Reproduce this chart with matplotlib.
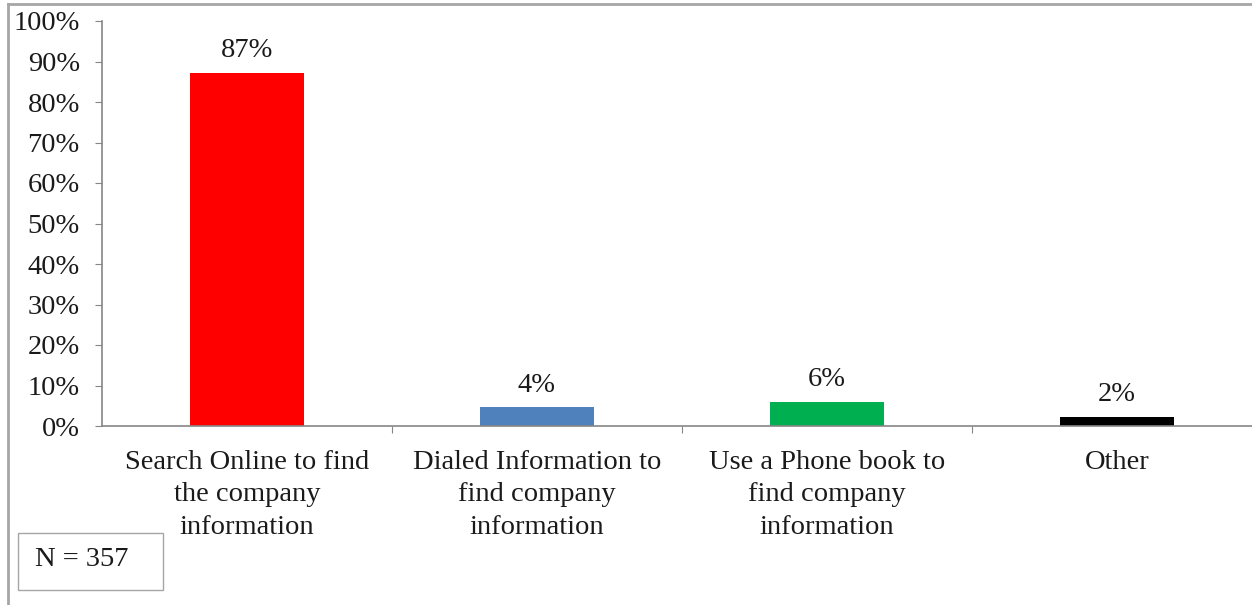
"""
How respondents find company information - bar chart
"""
import matplotlib
matplotlib.use("Agg")
from matplotlib import pyplot as plt
from matplotlib.lines import Line2D
from matplotlib.patches import Rectangle
from matplotlib.ticker import PercentFormatter

categories = ["Search Online to find\nthe company\ninformation",
              "Dialed Information to\nfind company\ninformation",
              "Use a Phone book to\nfind company\ninformation",
              "Other"]
values = [87.2, 4.6, 6.0, 2.3]
value_labels = ["87%", "4%", "6%", "2%"]
colors = ["#ff0000", "#4f81bd", "#00b050", "#000000"]
n_text = "N = 357"

plt.rcParams['font.family'] = ['Liberation Serif', 'DejaVu Serif']
FS = 20.5
TXT = "#1a1a1a"
W, H = 1252, 605

fig = plt.figure(figsize=(W / 100, H / 100), dpi=100)
ax = fig.add_axes([102 / W, 179 / H, 1160 / W, 405 / H])

x = list(range(len(categories)))
bars = ax.bar(x, values, width=0.395, color=colors)
for xi, v, lab in zip(x, values, value_labels):
    ax.annotate(lab, (xi, v), xytext=(0, 7), textcoords="offset points",
                ha="center", va="bottom", fontsize=FS, color=TXT)

ax.set_xlim(-0.5, len(categories) - 0.5)
ax.set_ylim(0, 100)
ax.set_yticks(range(0, 101, 10))
ax.yaxis.set_major_formatter(PercentFormatter(decimals=0))

# category labels between boundary ticks
ax.set_xticks([i + 0.5 for i in range(len(categories))])
ax.set_xticklabels([])
ax.set_xticks(x, minor=True)
ax.set_xticklabels(categories, minor=True, fontsize=FS, linespacing=1.4,
                   color=TXT)
ax.tick_params(axis="x", which="minor", length=0, pad=17)
ax.tick_params(axis="x", which="major", length=5, color="#868686")
ax.tick_params(axis="y", length=5, color="#868686", labelsize=FS, pad=11,
               labelcolor=TXT)

for s in ["top", "right"]:
    ax.spines[s].set_visible(False)
for s in ["left", "bottom"]:
    ax.spines[s].set_color("#868686")
    ax.spines[s].set_linewidth(1.2)

# outer chart frame (only top and left edges are visible)
fig.add_artist(Line2D([8 / W, 8 / W], [0, 1 - 4 / H],
                      transform=fig.transFigure, color="#a6a6a6", lw=2))
fig.add_artist(Line2D([8 / W, 1], [1 - 4 / H, 1 - 4 / H],
                      transform=fig.transFigure, color="#a6a6a6", lw=2))

# sample size box
fig.add_artist(Rectangle((18 / W, 1 - 590 / H), 145 / W, 57 / H,
                         transform=fig.transFigure, fc="white",
                         ec="#a6a6a6", lw=1))
fig.text(35 / W, 1 - 560 / H, n_text, ha="left", va="center",
         fontsize=FS, color=TXT)

plt.savefig("out.png", dpi=100)
